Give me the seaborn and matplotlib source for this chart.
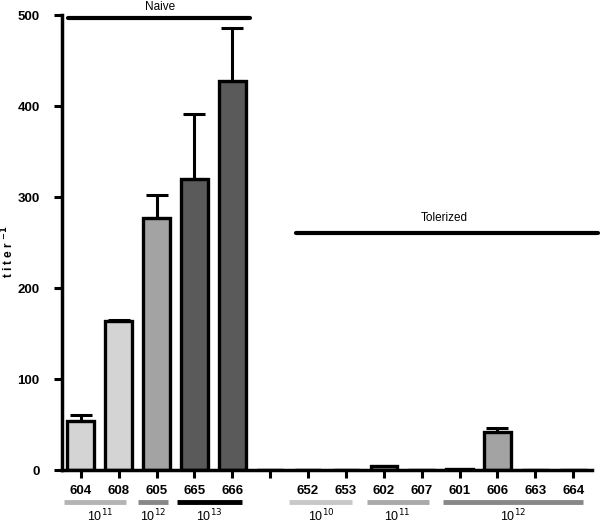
import numpy as np
import pandas as pd
import matplotlib.pyplot as plt
import seaborn as sns

# data
labels = ["604", "608", "605", "665", "666", "", "652", "653", "602", "607", "601", "606", "663", "664"]
titer = [54, 164, 277, 320, 428, 0, 0, 0, 4, 0, 1, 42, 0, 0]
err = [6, 1, 25, 71, 58, 0, 0, 0, 0, 0, 0, 4, 0, 0]
colors = ["#d4d4d4", "#d4d4d4", "#a3a3a3", "#5a5a5a", "#5a5a5a", "#ffffff",
          "#a3a3a3", "#a3a3a3", "#a3a3a3", "#a3a3a3", "#a3a3a3", "#a3a3a3", "#a3a3a3", "#a3a3a3"]

# dose groups under the axis: (label exponent, start, end, center, colour)
groups = [("11", -0.45, 1.2, 0.5, "#b4b4b4"),
          ("12", 1.5, 2.3, 1.9, "#888888"),
          ("13", 2.55, 4.25, 3.4, "#000000"),
          ("10", 5.5, 7.15, 6.35, "#c8c8c8"),
          ("11", 7.55, 9.2, 8.35, "#aaaaaa"),
          ("12", 9.55, 13.25, 11.4, "#888888")]

df = pd.DataFrame({"mouse": labels, "titer": titer})

sns.set_style("ticks", {"axes.edgecolor": "black", "xtick.color": "black",
                        "ytick.color": "black", "text.color": "black",
                        "axes.labelcolor": "black"})
plt.rcParams["font.family"] = ["Liberation Sans", "DejaVu Sans"]

fig = plt.figure(figsize=(6, 5.24), dpi=100)
ax = fig.add_axes([0.103, 0.103, 0.884, 0.868])

sns.barplot(data=df, x="mouse", y="titer", hue="mouse", palette=colors, legend=False,
            order=labels, width=0.7, edgecolor="black", linewidth=2.4, ax=ax)

x = np.arange(len(labels))
yerr = np.array(err)
mask = yerr > 0
ax.errorbar(x[mask], np.array(titer)[mask], yerr=[np.zeros(mask.sum()), yerr[mask]],
            fmt="none", ecolor="black", elinewidth=2.2, capsize=8, capthick=2.2, zorder=1)

ax.set_xlim(-0.5, 13.5)
ax.set_ylim(0, 500)
ax.set_yticks([0, 100, 200, 300, 400, 500])
ax.set_xlabel("")
ax.set_ylabel("t i t e r $^{\\mathbf{-1}}$", fontsize=8.5, fontweight="bold")
ax.yaxis.set_label_coords(-0.085, 0.48)
ax.tick_params(axis="y", width=2.2, length=6, labelsize=9.5, pad=10)
ax.tick_params(axis="x", width=2.2, length=6, labelsize=9.5, pad=5)
for t in ax.get_xticklabels() + ax.get_yticklabels():
    t.set_fontweight("bold")
for s in ["left", "bottom"]:
    ax.spines[s].set_linewidth(2.5)
sns.despine(ax=ax)

# header lines
ax.plot([-0.34, 4.46], [497, 497], color="black", lw=3, clip_on=False)
ax.text(2.1, 502, "Naive", ha="center", va="bottom", fontsize=8.5)
ax.plot([5.68, 13.66], [261, 261], color="black", lw=3, clip_on=False)
ax.text(9.6, 270, "Tolerized", ha="center", va="bottom", fontsize=8.5)

# dose groups
for exp, x0, x1, xc, c in groups:
    ax.plot([x0, x1], [-35, -35], color=c, lw=3.5, clip_on=False, solid_capstyle="butt")
    ax.text(xc, -50, "10$^{" + exp + "}$", ha="center", va="center", fontsize=9)

plt.savefig("out.png", dpi=100)
